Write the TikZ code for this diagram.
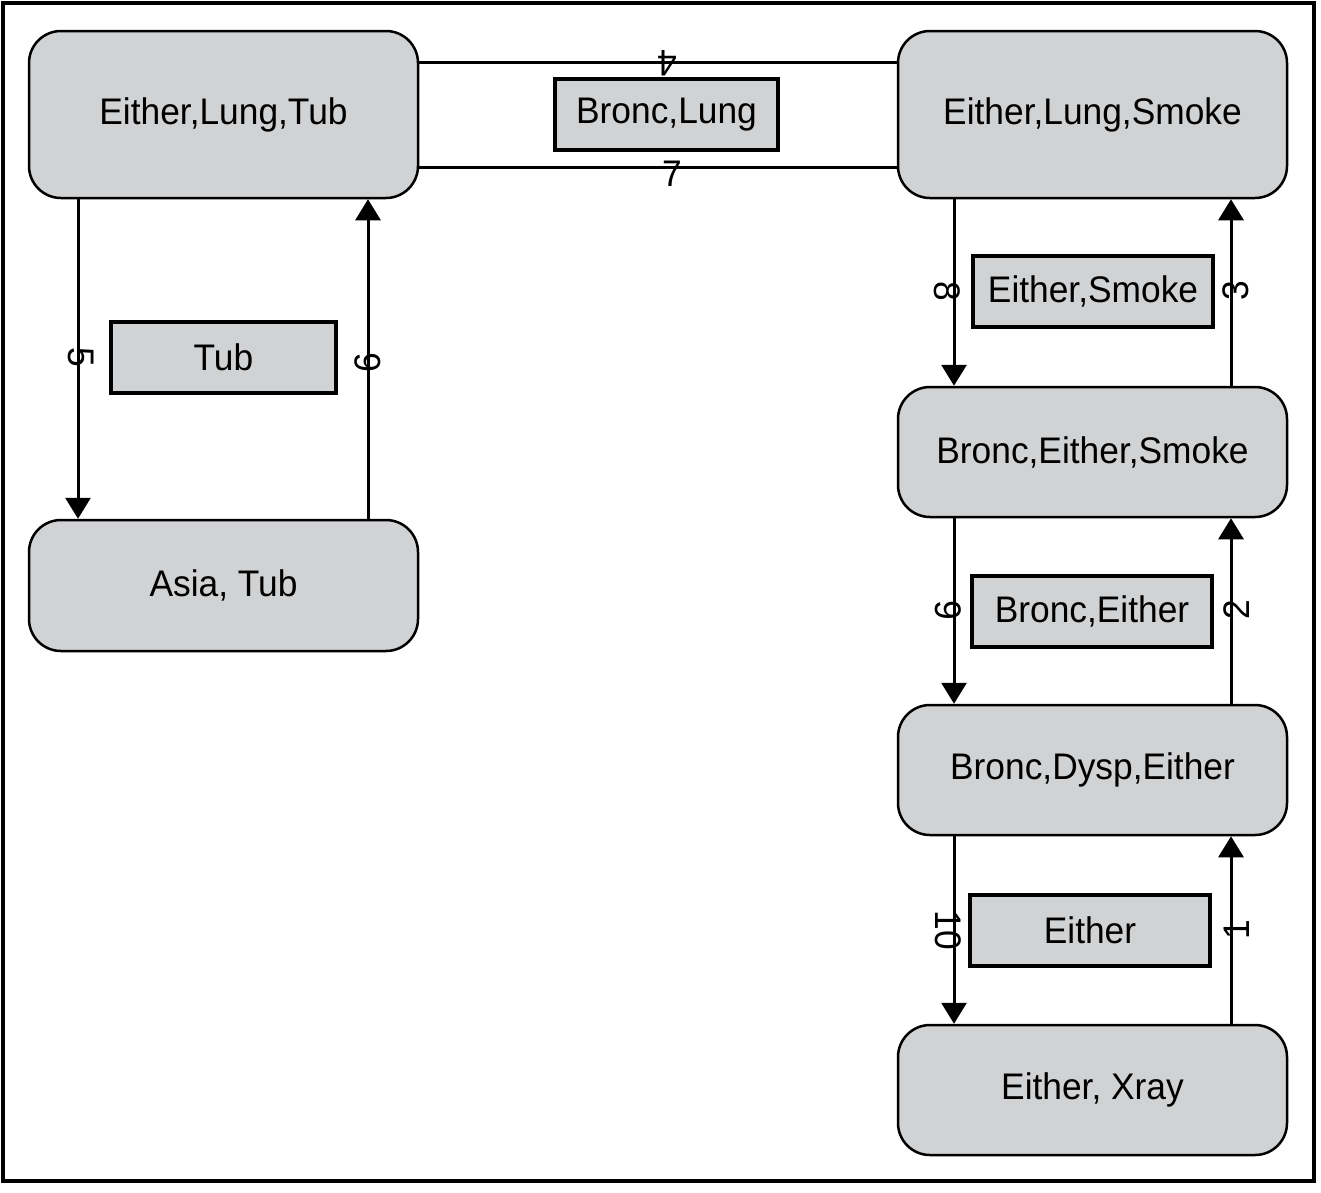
\documentclass[tikz,border=0pt]{standalone}
\usepackage{fontspec}
\setmainfont{Liberation Sans}[FakeStretch=0.955]
\usetikzlibrary{arrows.meta}
\definecolor{boxgray}{RGB}{209,210,212}
\begin{document}
\begin{tikzpicture}[x=1pt,y=-1pt,
  txt/.style={font=\fontsize{37}{40}\selectfont},
  clique/.style={draw, line width=2.5pt, fill=boxgray, rounded corners=32pt, minimum width=389pt, inner sep=0pt, txt},
  sepbox/.style={draw, line width=3.5pt, fill=boxgray, minimum height=71pt, inner sep=0pt, txt},
  arr/.style={line width=3pt, -{Triangle[width=25pt,length=21pt]}},
  link/.style={line width=3pt},
  num/.style={inner sep=0pt, txt}]
\useasboundingbox (0,0) rectangle (1321,1192);
\draw[line width=4pt] (2.5,2.5) rectangle (1314,1181);
% cliques
\node[clique, minimum height=167pt] (ELT) at (223.5,114.5) {Either,Lung,Tub};
\node[clique, minimum height=167pt] (ELS) at (1092.5,114.5) {Either,Lung,Smoke};
\node[clique, minimum height=130pt] (BES) at (1092.5,452) {Bronc,Either,Smoke};
\node[clique, minimum height=130pt] (BDE) at (1092.5,770) {Bronc,Dysp,Either};
\node[clique, minimum height=130pt] (EX) at (1092.5,1090) {Either, Xray};
\node[clique, minimum height=131pt] (AT) at (223.5,585.5) {Asia, Tub};
% connectors
\draw[link] ([yshift=52.5pt]ELT.east) -- ([yshift=52.5pt]ELS.west);
\draw[link] ([yshift=-52.5pt]ELT.east) -- ([yshift=-52.5pt]ELS.west);
\draw[arr] ([xshift=-145.5pt]ELT.south) -- ([xshift=-145.5pt]AT.north);
\draw[arr] ([xshift=144.5pt]AT.north) -- ([xshift=144.5pt]ELT.south);
\draw[arr] ([xshift=-138.5pt]ELS.south) -- ([xshift=-138.5pt]BES.north);
\draw[arr] ([xshift=138.5pt]BES.north) -- ([xshift=138.5pt]ELS.south);
\draw[arr] ([xshift=-138.5pt]BES.south) -- ([xshift=-138.5pt]BDE.north);
\draw[arr] ([xshift=138.5pt]BDE.north) -- ([xshift=138.5pt]BES.south);
\draw[arr] ([xshift=-138.5pt]BDE.south) -- ([xshift=-138.5pt]EX.north);
\draw[arr] ([xshift=138.5pt]EX.north) -- ([xshift=138.5pt]BDE.south);
% separators
\node[sepbox, minimum width=223pt] (SBL) at (666.5,114.5) {Bronc,Lung};
\node[sepbox, minimum width=225pt] (STub) at (223.5,357.5) {Tub};
\node[sepbox, minimum width=240pt] (SES) at (1093,291.5) {Either,Smoke};
\node[sepbox, minimum width=240pt] (SBE) at (1092,611.5) {Bronc,Either};
\node[sepbox, minimum width=240pt] (SE) at (1090,930.5) {Either};
% message numbers
\node[num, rotate=180] (L4) at (667,63) {4};
\node[num] (L7) at (672,174) {7};
\node[num, rotate=-90] (L5) at (81,357) {5};
\node[num, rotate=90] (L6) at (368,363) {6};
\node[num, rotate=-90] (L8) at (947,291) {8};
\node[num, rotate=90] (L3) at (1236,291) {3};
\node[num, rotate=-90] (L9) at (948,610) {9};
\node[num, rotate=90] (L2) at (1237,610) {2};
\node[num, rotate=-90] (L10) at (948,930) {10};
\node[num, rotate=90] (L1) at (1237,930) {1};
\end{tikzpicture}
\end{document}
